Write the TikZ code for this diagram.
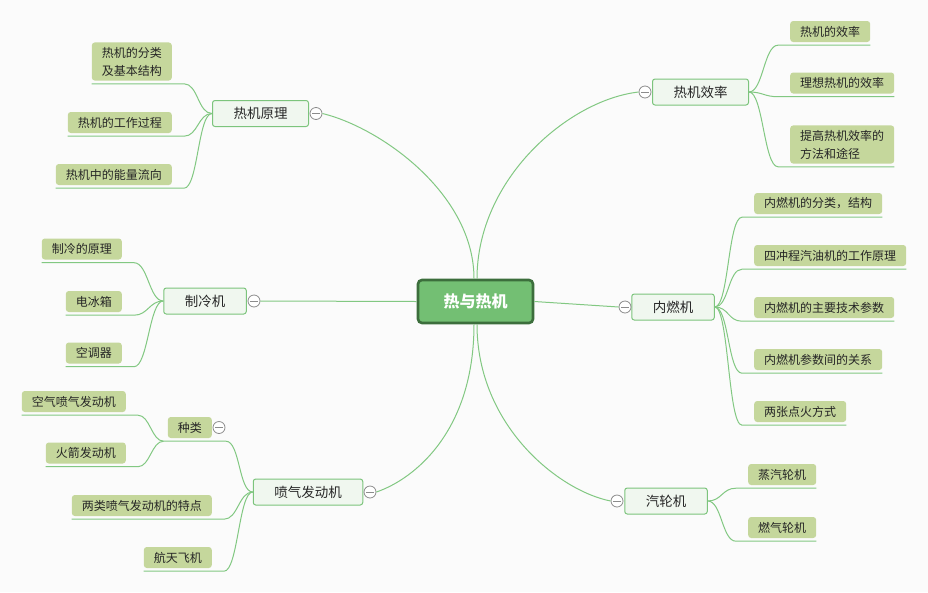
\documentclass[tikz,border=0pt]{standalone}
\usepackage{fontspec}
\setmainfont{Noto Sans CJK SC}
\usetikzlibrary{calc}
\definecolor{leafc}{HTML}{C5D79C}
\definecolor{branchfill}{HTML}{F0F7EF}
\definecolor{branchline}{HTML}{7CC47C}
\definecolor{connc}{HTML}{82C882}
\definecolor{rootfill}{HTML}{73BF73}
\definecolor{rootline}{HTML}{3C6E3C}
\definecolor{txt}{HTML}{262626}
\definecolor{bgc}{HTML}{FBFBFB}
\tikzset{
 leafbox/.style={fill=leafc, rounded corners=3pt, inner xsep=10pt, inner ysep=0pt, minimum height=21pt, font=\fontsize{12}{18}\selectfont, text=txt, align=left},
 twoline/.style={inner ysep=4.5pt},
 branchbox/.style={fill=branchfill, draw=branchline, line width=1pt, rounded corners=2.5pt, inner xsep=21pt, inner ysep=0pt, minimum height=26pt, font=\fontsize{13.5}{16}\selectfont, text=txt},
 rootbox/.style={fill=rootfill, draw=rootline, line width=2.6pt, rounded corners=4pt, minimum width=115pt, minimum height=43pt, font=\fontsize{16}{18}\selectfont\bfseries, text=white},
 toggle/.style={circle, draw=gray!90, fill=white, line width=0.8pt, minimum size=12pt, inner sep=0pt, path picture={\draw[gray!90, line width=0.8pt] ([xshift=-4pt]path picture bounding box.center) -- ([xshift=4pt]path picture bounding box.center);}},
 conn/.style={draw=connc, line width=1pt},
}
\begin{document}
\begin{tikzpicture}[x=1pt,y=-1pt]
\fill[bgc] (0,0) rectangle (928,592);
\useasboundingbox (0,0) rectangle (928,592);

% root
\node[rootbox] (root) at (475.5,301.5) {热与热机};

% left branches
\node[branchbox] (b1) at (260.5,113.5) {热机原理};
\node[toggle] (t1) at (316,113.5) {};
\node[leafbox,twoline,anchor=east] (l11) at (172,61.5) {热机的分类\\及基本结构};
\node[leafbox,anchor=east] (l12) at (172,122.5) {热机的工作过程};
\node[leafbox,anchor=east] (l13) at (172,174.5) {热机中的能量流向};

\node[branchbox] (b2) at (205,301) {制冷机};
\node[toggle] (t2) at (254,301) {};
\node[leafbox,anchor=east] (l21) at (122,249) {制冷的原理};
\node[leafbox,anchor=east] (l22) at (122,301.5) {电冰箱};
\node[leafbox,anchor=east] (l23) at (122,353) {空调器};

\node[branchbox] (b3) at (308,492) {喷气发动机};
\node[toggle] (t3) at (370,492) {};
\node[leafbox,anchor=east] (l31) at (212,427.5) {种类};
\node[toggle] (t31) at (219,427.5) {};
\node[leafbox,anchor=east] (l311) at (126,401.5) {空气喷气发动机};
\node[leafbox,anchor=east] (l312) at (126,453) {火箭发动机};
\node[leafbox,anchor=east] (l32) at (212,505.5) {两类喷气发动机的特点};
\node[leafbox,anchor=east] (l33) at (212,557.5) {航天飞机};

% right branches
\node[branchbox] (b4) at (700.5,92) {热机效率};
\node[toggle] (t4) at (645,92) {};
\node[leafbox,anchor=west] (l41) at (790,31.5) {热机的效率};
\node[leafbox,anchor=west] (l42) at (790,83) {理想热机的效率};
\node[leafbox,twoline,anchor=west] (l43) at (790,144.5) {提高热机效率的\\方法和途径};

\node[branchbox] (b5) at (673,307) {内燃机};
\node[toggle] (t5) at (625,307) {};
\node[leafbox,anchor=west] (l51) at (754,203.5) {内燃机的分类，结构};
\node[leafbox,anchor=west] (l52) at (754,255.5) {四冲程汽油机的工作原理};
\node[leafbox,anchor=west] (l53) at (754,307.5) {内燃机的主要技术参数};
\node[leafbox,anchor=west] (l54) at (754,359.5) {内燃机参数间的关系};
\node[leafbox,anchor=west] (l55) at (754,411.5) {两张点火方式};

\node[branchbox] (b6) at (666,501) {汽轮机};
\node[toggle] (t6) at (617,501) {};
\node[leafbox,anchor=west] (l61) at (748,474.5) {蒸汽轮机};
\node[leafbox,anchor=west] (l62) at (748,527.5) {燃气轮机};

% root connectors
\draw[conn] ([xshift=-1.5pt]root.north) .. controls +(0,-85) and +(58,14) .. (t1.east);
\draw[conn] ([xshift=1.5pt]root.north) .. controls +(0,-100) and +(-70,8) .. (t4.west);
\draw[conn] (root.west) -- (t2.east);
\draw[conn] (root.east) -- (t5.west);
\draw[conn] ([xshift=-1.5pt]root.south) .. controls +(0,107) and +(38,-13) .. (t3.east);
\draw[conn] ([xshift=1.5pt]root.south) .. controls +(0,102) and +(-51,-10) .. (t6.west);

% left leaf connectors
\foreach \p/\l in {b1/l11,b1/l12,b1/l13,b2/l21,b2/l22,b2/l23,b3/l32,b3/l33}
  \draw[conn] (\p.west) .. controls +(-14,0) and +(14,0) .. ($(\l.south east)+(12,3)$) -- ($(\l.south west)+(0,3)$);
\draw[conn] (b3.west) .. controls +(-14,0) and +(14,0) .. ($(l31.south east)+(14,3)$) -- ($(l31.south west)+(-4,3)$) coordinate (k31);
\foreach \l in {l311,l312}
  \draw[conn] (k31) .. controls +(-12,0) and +(12,0) .. ($(\l.south east)+(12,3)$) -- ($(\l.south west)+(0,3)$);

% right leaf connectors
\foreach \p/\l in {b4/l41,b4/l42,b4/l43,b5/l51,b5/l52,b5/l53,b5/l54,b5/l55,b6/l61,b6/l62}
  \draw[conn] (\p.east) .. controls +(14,0) and +(-14,0) .. ($(\l.south west)+(-12,3)$) -- ($(\l.south east)+(0,3)$);
\end{tikzpicture}
\end{document}
